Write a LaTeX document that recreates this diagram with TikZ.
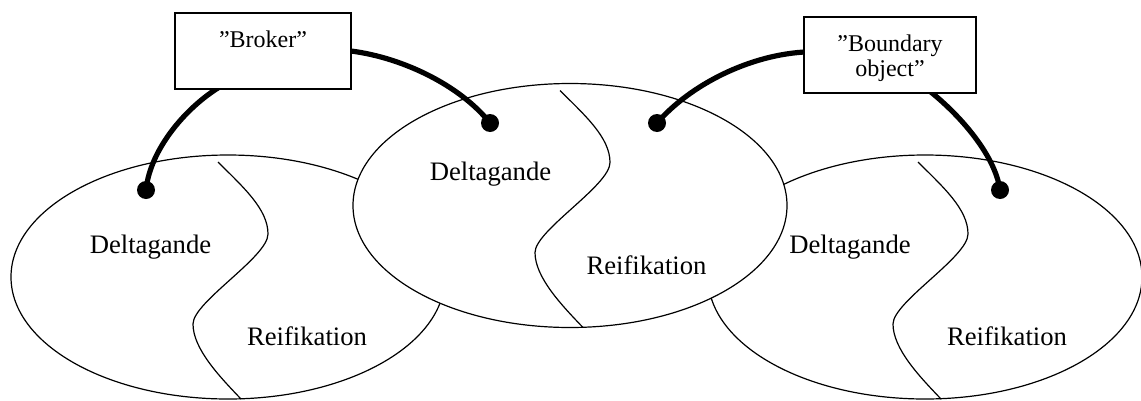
\documentclass[tikz,border=0pt]{standalone}
\usepackage{fontspec}
\setmainfont{Liberation Serif}
\usetikzlibrary{shapes.geometric}
\begin{document}
\begin{tikzpicture}[x=0.75pt,y=-0.75pt,
  blob/.style={ellipse, draw, fill=white, line width=0.9pt, minimum width=325.5pt, minimum height=183pt, inner sep=0pt},
  split/.style={line width=0.9pt},
  lbl/.style={font=\fontsize{20}{24}\selectfont, anchor=base, inner sep=0pt},
  boxlbl/.style={font=\fontsize{18}{22}\selectfont, anchor=base, inner sep=0pt},
  tag/.style={draw, fill=white, line width=0.8pt, inner sep=0pt},
  dot/.style={circle, fill=black, inner sep=0pt, minimum size=13.5pt},
  conn/.style={line width=3.9pt, shorten <=-4pt}]
\useasboundingbox (0,0) rectangle (1141,400);
% outer ellipses
\node[blob] (e1) at (228,277) {};
\node[blob] (e3) at (925,277) {};
\begin{scope}[shift={(228,277)}]
  \draw[split] (-10,-115) .. controls (15,-90) and (40,-68) .. (40,-43)
    .. controls (40,-20) and (-35,25) .. (-35,47)
    .. controls (-35,72) and (-8,100) .. (13,122);
\end{scope}
\begin{scope}[shift={(928,277)}]
  \draw[split] (-10,-115) .. controls (15,-90) and (40,-68) .. (40,-43)
    .. controls (40,-20) and (-35,25) .. (-35,47)
    .. controls (-35,72) and (-8,100) .. (13,122);
\end{scope}
% middle ellipse on top
\node[blob] (e2) at (570,205.5) {};
\begin{scope}[shift={(570,205.5)}]
  \draw[split] (-10,-115) .. controls (15,-90) and (40,-68) .. (40,-43)
    .. controls (40,-20) and (-35,25) .. (-35,47)
    .. controls (-35,72) and (-8,100) .. (13,122);
\end{scope}
% labels
\node[lbl] (p1) at (150.5,253) {Deltagande};
\node[lbl] (r1) at (307,345) {Reifikation};
\node[lbl] (p2) at (490.5,180) {Deltagande};
\node[lbl] (r2) at (646.5,274) {Reifikation};
\node[lbl] (p3) at (850,253) {Deltagande};
\node[lbl] (r3) at (1007,345) {Reifikation};
% box shapes (positions), dots
\path node[tag, draw=none, fill=none, minimum width=132pt, minimum height=57pt] (broker) at (263,51) {}
      node[tag, draw=none, fill=none, minimum width=129pt, minimum height=57pt] (boundary) at (890,55) {};
\node[dot] (d1) at (146,190) {};
\node[dot] (d2) at (490,123) {};
\node[dot] (d3) at (657,123) {};
\node[dot] (d4) at (1000,190) {};
% connectors
\draw[conn] (broker.219.6) .. controls (185,108) and (150,150) .. (d1.center);
\draw[conn] (broker.east) .. controls (400,56) and (460,85) .. (d2.center);
\draw[conn] (boundary.178) .. controls (750,54) and (690,85) .. (d3.center);
\draw[conn] (boundary.318.5) .. controls (960,115) and (995,155) .. (d4.center);
% boxes drawn over connector ends
\node[tag, minimum width=132pt, minimum height=57pt] (brokerbox) at (broker.center) {};
\node[boxlbl] (brokertxt) at (263,47) {”Broker”};
\node[tag, minimum width=129pt, minimum height=57pt] (boundarybox) at (boundary.center) {};
\node[boxlbl] (boundarytxt1) at (890,51) {”Boundary};
\node[boxlbl] (boundarytxt2) at (890,76) {object”};
\end{tikzpicture}
\end{document}
